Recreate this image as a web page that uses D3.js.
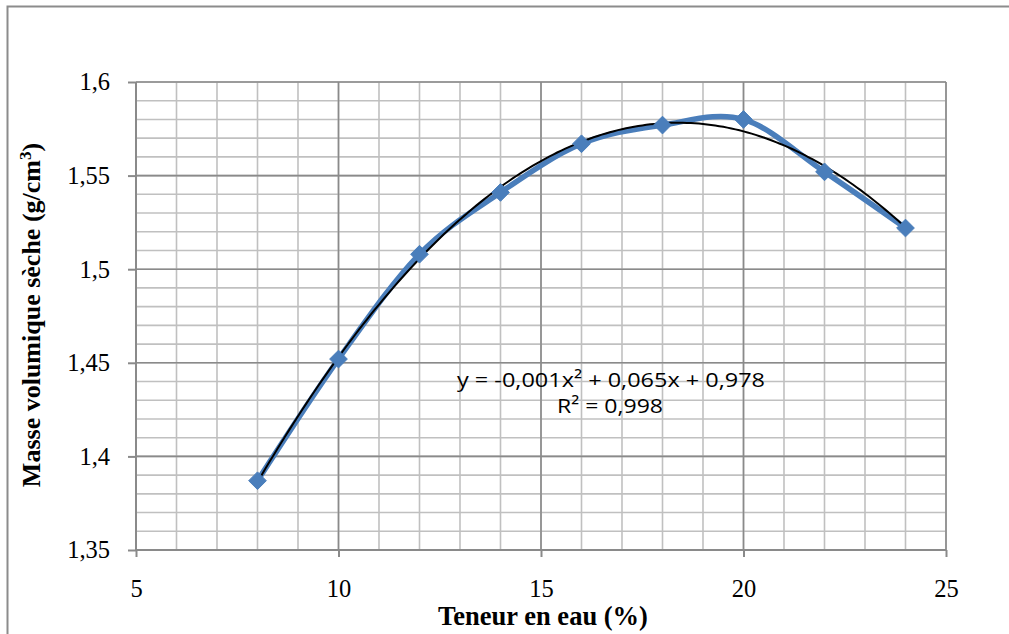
<!DOCTYPE html>
<html><head><meta charset="utf-8">
<script src="https://cdn.jsdelivr.net/npm/d3@7"></script>
<style>body{margin:0;background:#fff}svg{display:block}</style>
</head><body>
<svg id="c" width="1009" height="634"></svg>
<script>
const waterContent = [8, 10, 12, 14, 16, 18, 20, 22, 24];
const dryDensity = [1.387, 1.452, 1.508, 1.541, 1.567, 1.577, 1.580, 1.552, 1.522];
const xTicks = [5, 10, 15, 20, 25];
const yTicks = [1.35, 1.4, 1.45, 1.5, 1.55, 1.6];
const equationLines = ["y = -0,001x\u00b2 + 0,065x + 0,978", "R\u00b2 = 0,998"];

const svg = d3.select("#c");
const L = 136, R = 946, T = 82, B = 550;
const x = d3.scaleLinear().domain([5, 25]).range([L, R]);
const y = d3.scaleLinear().domain([1.35, 1.6]).range([B, T]);
const fmt = d => String(d).replace(".", ",");

// outer frame
svg.append("rect").attr("x", 7.5).attr("y", 6.5).attr("width", 1040).attr("height", 700)
  .attr("fill", "none").attr("stroke", "#8c8c8c").attr("stroke-width", 2);

// minor grid
const minorX = d3.range(5, 25.01, 1);
const minorY = d3.range(0, 26).map(i => 1.35 + i * 0.01);
svg.append("g").selectAll("line").data(minorX).join("line")
  .attr("x1", d => x(d)).attr("x2", d => x(d)).attr("y1", T).attr("y2", B)
  .attr("stroke", "#c0c0c0").attr("stroke-width", 1.6);
svg.append("g").selectAll("line").data(minorY).join("line")
  .attr("x1", L).attr("x2", R).attr("y1", d => y(d)).attr("y2", d => y(d))
  .attr("stroke", "#c0c0c0").attr("stroke-width", 1.6);
// major grid
svg.append("g").selectAll("line").data(xTicks).join("line")
  .attr("x1", d => x(d)).attr("x2", d => x(d)).attr("y1", T).attr("y2", B)
  .attr("stroke", "#8a8a8a").attr("stroke-width", 1.6);
svg.append("g").selectAll("line").data(yTicks).join("line")
  .attr("x1", L).attr("x2", R).attr("y1", d => y(d)).attr("y2", d => y(d))
  .attr("stroke", "#8a8a8a").attr("stroke-width", 1.6);

// axes
const xAxis = d3.axisBottom(x).tickValues(xTicks).tickFormat(fmt).tickSize(7).tickPadding(23);
const yAxis = d3.axisLeft(y).tickValues(yTicks).tickFormat(fmt).tickSize(8).tickPadding(18);
const gx = svg.append("g").attr("transform", `translate(0,${B})`).call(xAxis);
const gy = svg.append("g").attr("transform", `translate(${L},0)`).call(yAxis);
[gx, gy].forEach(g => {
  g.attr("font-family", null).attr("font-size", null);
  g.selectAll("path,line").attr("stroke", "#8a8a8a").attr("stroke-width", 2);
  g.selectAll("text").attr("font-family", "Liberation Serif").attr("font-size", 24.5).attr("fill", "#000");
});
gx.select(".domain").attr("d", `M${L},0H${R}`);
gy.select(".domain").attr("d", `M0,${B}V${T}`);

// data line (smoothed)
const pts = waterContent.map((w, i) => [w, dryDensity[i]]);
svg.append("path").datum(pts)
  .attr("d", d3.line().x(d => x(d[0])).y(d => y(d[1])).curve(d3.curveCatmullRom.alpha(0)))
  .attr("fill", "none").attr("stroke", "#4a7ebb").attr("stroke-width", 5.5).attr("stroke-linejoin", "round");

// quadratic least-squares trendline computed from the data
function polyfit2(xs, ys) {
  const n = xs.length;
  let S = [0,0,0,0,0], Ty = [0,0,0];
  for (let i = 0; i < n; i++) {
    for (let k = 0; k < 5; k++) S[k] += Math.pow(xs[i], k);
    for (let k = 0; k < 3; k++) Ty[k] += ys[i] * Math.pow(xs[i], k);
  }
  const M = [[S[0],S[1],S[2],Ty[0]],[S[1],S[2],S[3],Ty[1]],[S[2],S[3],S[4],Ty[2]]];
  for (let c = 0; c < 3; c++) {
    for (let r = c + 1; r < 3; r++) {
      const f = M[r][c] / M[c][c];
      for (let k = c; k < 4; k++) M[r][k] -= f * M[c][k];
    }
  }
  const b = [0,0,0];
  for (let r = 2; r >= 0; r--) {
    let s = M[r][3];
    for (let k = r + 1; k < 3; k++) s -= M[r][k] * b[k];
    b[r] = s / M[r][r];
  }
  return b;
}
const coef = polyfit2(waterContent, dryDensity);
const trendX = d3.range(8, 24.001, 0.1);
svg.append("path").datum(trendX)
  .attr("d", d3.line().x(d => x(d)).y(d => y(coef[0] + coef[1] * d + coef[2] * d * d)))
  .attr("fill", "none").attr("stroke", "#000").attr("stroke-width", 2);

// markers
svg.append("g").selectAll("path").data(pts).join("path")
  .attr("transform", d => `translate(${x(d[0])},${y(d[1])})`)
  .attr("d", d3.symbol(d3.symbolDiamond2, 200))
  .attr("fill", "#4a7ebb").attr("stroke", "#4a7ebb").attr("stroke-width", 1);

// equation text
const eqFont = "Open Sans, Liberation Sans";
svg.append("text").attr("x", 611).attr("y", 387).attr("text-anchor", "middle")
  .attr("font-family", eqFont).attr("font-size", 20).attr("fill", "#000")
  .attr("textLength", 308).attr("lengthAdjust", "spacingAndGlyphs").text(equationLines[0]);
svg.append("text").attr("x", 610).attr("y", 413).attr("text-anchor", "middle")
  .attr("font-family", eqFont).attr("font-size", 20).attr("fill", "#000")
  .attr("textLength", 106).attr("lengthAdjust", "spacingAndGlyphs").text(equationLines[1]);

// axis titles
svg.append("text").attr("x", 543).attr("y", 625).attr("text-anchor", "middle")
  .attr("font-family", "Liberation Serif").attr("font-weight", "bold").attr("font-size", 26.5)
  .text("Teneur en eau (%)");
const yt = svg.append("text").attr("transform", `translate(40,315) rotate(-90)`).attr("text-anchor", "middle")
  .attr("font-family", "Liberation Serif").attr("font-weight", "bold").attr("font-size", 26);
yt.append("tspan").text("Masse volumique sèche (g/cm");
yt.append("tspan").attr("font-size", 17).attr("dy", -9).text("3");
yt.append("tspan").attr("dy", 9).text(")");
</script>
</body></html>
